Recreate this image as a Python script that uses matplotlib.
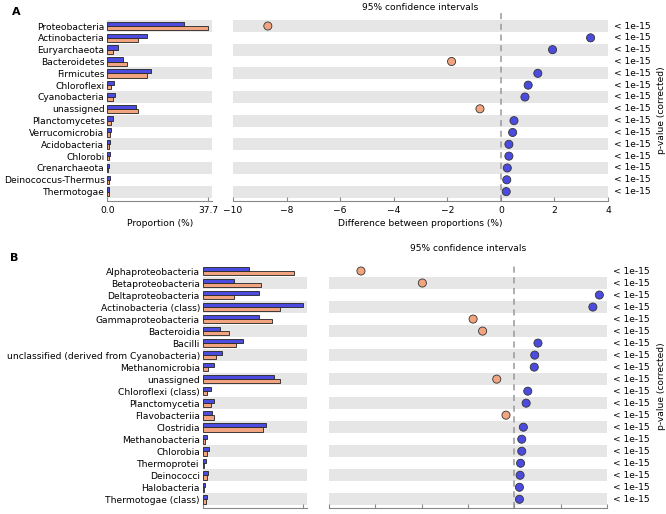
import matplotlib
matplotlib.use("Agg")
import matplotlib.pyplot as plt
import numpy as np

# Panel A: phylum level
phyla = ["Proteobacteria", "Actinobacteria", "Euryarchaeota", "Bacteroidetes",
         "Firmicutes", "Chloroflexi", "Cyanobacteria", "unassigned",
         "Planctomycetes", "Verrucomicrobia", "Acidobacteria", "Chlorobi",
         "Crenarchaeota", "Deinococcus-Thermus", "Thermotogae"]
phyla_blue = [28.9, 14.8, 3.9, 5.8, 16.4, 2.5, 3.0, 10.7, 2.0, 1.3, 1.0, 1.0, 0.6, 1.0, 0.8]
phyla_orange = [37.7, 11.4, 2.25, 7.5, 14.8, 1.4, 2.2, 11.4, 1.4, 0.9, 0.6, 0.6, 0.4, 0.7, 0.5]
phyla_diff = [-8.7, 3.35, 1.93, -1.84, 1.38, 1.02, 0.9, -0.78, 0.49, 0.44, 0.3, 0.3, 0.24, 0.22, 0.2]

# Panel B: class level
classes = ["Alphaproteobacteria", "Betaproteobacteria", "Deltaproteobacteria",
           "Actinobacteria (class)", "Gammaproteobacteria", "Bacteroidia", "Bacilli",
           "unclassified (derived from Cyanobacteria)", "Methanomicrobia", "unassigned",
           "Chloroflexi (class)", "Planctomycetia", "Flavobacteriia", "Clostridia",
           "Methanobacteria", "Chlorobia", "Thermoprotei", "Deinococci",
           "Halobacteria", "Thermotogae (class)"]
class_blue = [6.87, 4.6, 8.25, 14.73, 8.34, 2.55, 5.89, 2.8, 1.66, 10.5, 1.22, 1.66,
              1.33, 9.32, 0.59, 0.93, 0.49, 0.83, 0.34, 0.64]
class_orange = [13.5, 8.6, 4.65, 11.38, 10.16, 3.92, 4.9, 1.96, 0.83, 11.38, 0.59, 1.18,
                1.71, 8.93, 0.34, 0.59, 0.25, 0.64, 0.2, 0.44]
class_diff = [-6.62, -3.97, 3.67, 3.39, -1.78, -1.37, 1.02, 0.88, 0.86, -0.76, 0.58, 0.51,
              -0.36, 0.39, 0.32, 0.32, 0.27, 0.25, 0.22, 0.22]
pvalue_text = "< 1e-15"

BLUE = "#4b4bdf"
ORANGE = "#f2a37f"
GREY = "#e6e6e6"
FS = 6.6

W, H = 666, 514
fig = plt.figure(figsize=(W / 100, H / 100), dpi=100)


def box(x0, y0, x1, y1):
    return [x0 / W, 1 - y1 / H, (x1 - x0) / W, (y1 - y0) / H]


def panel(names, blue, orange, diff, ytop, ybot, bar_x, diff_x, diff_lim, diff_ticks,
          show_labels, title_y, pval_x, ylabel_x, top_pad):
    n = len(names)
    ypos = np.arange(n)[::-1]
    ylim = (-0.75, n - 0.5 + top_pad)
    row_px = (ybot - ytop) / (ylim[1] - ylim[0])

    axb = fig.add_axes(box(bar_x[0], ytop, bar_x[1], ybot))
    axd = fig.add_axes(box(diff_x[0], ytop, diff_x[1], ybot))
    for ax in (axb, axd):
        for y in ypos:
            if (n - 1 - y) % 2 == (n - 1) % 2:
                ax.axhspan(y - 0.5, y + 0.5, color=GREY, lw=0, zorder=0)
        ax.set_ylim(*ylim)
        for s in ("top", "left", "right"):
            ax.spines[s].set_visible(False)
        ax.spines["bottom"].set_color("#888888")
        ax.spines["bottom"].set_linewidth(0.8)
        ax.tick_params(axis="x", direction="in", length=3, color="#888888",
                       labelsize=FS, pad=4)
        ax.set_yticks([])

    h = 0.36
    mx = max(max(blue), max(orange))
    axb.barh(ypos + h / 2, blue, height=h, color=BLUE, edgecolor="#222222", lw=0.6, zorder=2)
    axb.barh(ypos - h / 2, orange, height=h, color=ORANGE, edgecolor="#222222", lw=0.6, zorder=2)
    axb.set_xlim(0, mx * 1.04)
    axb.set_xticks([0, mx])
    axb.set_yticks(ypos)
    axb.set_yticklabels(names, fontsize=FS)
    axb.tick_params(axis="y", length=0, pad=2)

    cols = [BLUE if d > 0 else ORANGE for d in diff]
    axd.scatter(diff, ypos, s=34, c=cols, edgecolors="#333333", linewidths=0.6, zorder=3)
    axd.axvline(0, color="#999999", ls=(0, (4, 3)), lw=1.1, zorder=1)
    axd.set_xlim(*diff_lim)
    axd.set_xticks(diff_ticks)

    if show_labels:
        axb.set_xticklabels(["0.0", f"{mx:.1f}"])
        axd.set_xticklabels([f"{t:d}".replace("-", "\u2212") for t in diff_ticks])
        axb.set_xlabel("Proportion (%)", fontsize=FS, labelpad=3)
        axd.set_xlabel("Difference between proportions (%)", fontsize=FS, labelpad=3)
    else:
        axb.set_xticklabels([])
        axd.set_xticklabels([])

    fig.text((diff_x[0] + diff_x[1]) / 2 / W, 1 - title_y / H, "95% confidence intervals",
             fontsize=FS, ha="center", va="center")

    # p-value column
    for y in ypos:
        axd.text(pval_x, y, pvalue_text, transform=axd.get_yaxis_transform(),
                 fontsize=FS, va="center", ha="left")
    fig.text(ylabel_x / W, 1 - ((ytop + top_pad * row_px + ybot) / 2) / H,
             "p-value (corrected)", rotation=90, fontsize=FS, va="center", ha="center")


panel(phyla, phyla_blue, phyla_orange, phyla_diff, 13, 200.5, (107.3, 212), (233, 608),
      (-10, 4), list(range(-10, 5, 2)), True, 7, 1.015, 662, 0.6)
panel(classes, class_blue, class_orange, class_diff, 265, 508.3, (202.7, 306.7), (329, 607),
      (-8, 4), list(range(-8, 5, 2)), False, 248, 1.02, 662, 0.0)

fig.text(12 / W, 1 - 12 / H, "A", fontsize=8, fontweight="bold", va="center", ha="left")
fig.text(10 / W, 1 - 258 / H, "B", fontsize=8, fontweight="bold", va="center", ha="left")

fig.savefig("out.png", dpi=100, facecolor="white")
